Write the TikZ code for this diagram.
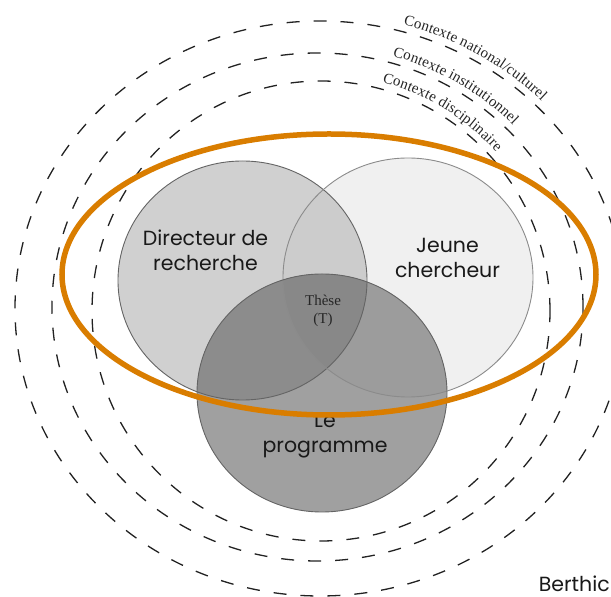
\documentclass[tikz,border=0pt]{standalone}
\usepackage{fontspec}
\usetikzlibrary{decorations.text}
\newfontfamily\geofont{Poppins}
\newfontfamily\serifont{Liberation Serif}
\definecolor{orangeline}{RGB}{217,125,0}
\definecolor{dashcol}{RGB}{34,34,34}
\definecolor{fillD}{RGB}{208,208,208}
\definecolor{fillJ}{RGB}{240,240,240}
\definecolor{fillP}{RGB}{160,160,160}
\definecolor{fillDJ}{RGB}{204,204,204}
\definecolor{fillDP}{RGB}{140,140,140}
\definecolor{fillJP}{RGB}{156,156,156}
\definecolor{fillDJP}{RGB}{136,136,136}
\definecolor{rimcol}{RGB}{100,100,100}
\tikzset{
  ctxline/.style={draw=dashcol, line width=1.3pt, dash pattern=on 13pt off 14pt},
  rim/.style={draw=rimcol, line width=0.9pt},
  bigtext/.style={font=\geofont\fontsize{20.5}{25}\selectfont, align=center, inner sep=0pt, text=black!90},
  smalltext/.style={font=\serifont\fontsize{15}{18}\selectfont, align=center, inner sep=0pt, text=black!85},
  ctxlabel/.style={decorate, decoration={text along path, text align={left}, raise=7pt, text={#1}}}
}
\newcommand\ctxfmt{\serifont\fontsize{15}{15}\selectfont\color{black!85}}
\begin{document}
\begin{tikzpicture}[x=1pt,y=1pt]
\useasboundingbox (0,0) rectangle (611,597);
% centres
\coordinate (cOut) at (320,288.5);
\coordinate (cMid) at (317.5,290);
\coordinate (cIn) at (321,286);
\coordinate (cOr) at (329,322.5);
\coordinate (cD) at (242.5,316.5);
\coordinate (cJ) at (408,319.5);
\coordinate (cP) at (322,204);
% dashed context ellipses
\draw[ctxline] (cOut) ellipse [x radius=305pt, y radius=287.5pt];
\draw[ctxline] (cMid) ellipse [x radius=265.5pt, y radius=254pt];
\draw[ctxline] (cIn) ellipse [x radius=229pt, y radius=230pt];
% context labels
\path[ctxlabel={|\ctxfmt|Contexte national/culturel}]
  (cOut) ++(74.5:305pt and 287.5pt) arc[start angle=74.5, end angle=25, x radius=305pt, y radius=287.5pt];
\path[ctxlabel={|\ctxfmt|Contexte institutionnel}]
  (cMid) ++(74:265.5pt and 254pt) arc[start angle=74, end angle=20, x radius=265.5pt, y radius=254pt];
\path[ctxlabel={|\ctxfmt|Contexte disciplinaire}]
  (cIn) ++(75:229pt and 230pt) arc[start angle=75, end angle=15, x radius=229pt, y radius=230pt];
% Venn fills
\fill[fillD] (cD) ellipse [x radius=124.5pt, y radius=119.5pt];
\fill[fillJ] (cJ) ellipse [x radius=125pt, y radius=119.5pt];
\begin{scope}
  \clip (cD) ellipse [x radius=124.5pt, y radius=119.5pt];
  \fill[fillDJ] (cJ) ellipse [x radius=125pt, y radius=119.5pt];
\end{scope}
\fill[fillP] (cP) ellipse [x radius=125pt, y radius=119pt];
\begin{scope}
  \clip (cP) ellipse [x radius=125pt, y radius=119pt];
  \fill[fillDP] (cD) ellipse [x radius=124.5pt, y radius=119.5pt];
  \fill[fillJP] (cJ) ellipse [x radius=125pt, y radius=119.5pt];
  \clip (cD) ellipse [x radius=124.5pt, y radius=119.5pt];
  \fill[fillDJP] (cJ) ellipse [x radius=125pt, y radius=119.5pt];
\end{scope}
% outlines
\draw[rim] (cD) ellipse [x radius=124.5pt, y radius=119.5pt];
\draw[rim, draw=rimcol!75] (cJ) ellipse [x radius=125pt, y radius=119.5pt];
\draw[rim] (cP) ellipse [x radius=125pt, y radius=119pt];
% labels
\node[bigtext] (dir) at (205.5,346.5) {Directeur de\\recherche};
\node[bigtext] (jeune) at (447.5,339.5) {Jeune\\chercheur};
\node[bigtext] (prog) at (325,161) {Le\\programme};
\node[smalltext] (these) at (323,286) {Thèse\\(T)};
% orange ellipse
\draw[orangeline, line width=5.5pt] (cOr) ellipse [x radius=267pt, y radius=140.5pt];
% author
\node[font=\geofont\fontsize{20.5}{25}\selectfont, anchor=base east, inner sep=0pt, text=black!90] (auth) at (610,5) {Berthic};
\end{tikzpicture}
\end{document}
